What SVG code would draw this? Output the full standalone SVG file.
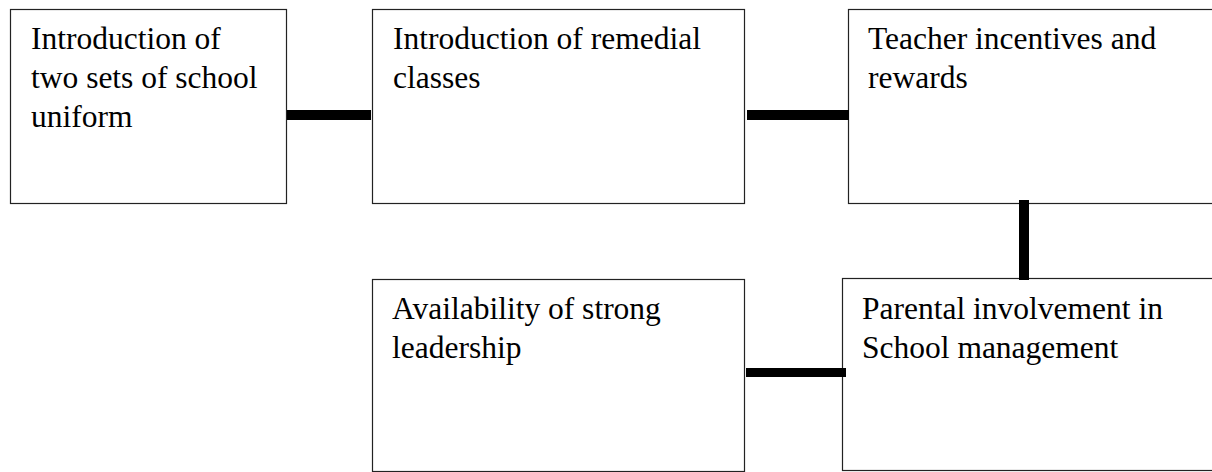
<svg xmlns="http://www.w3.org/2000/svg" width="1212" height="472" viewBox="0 0 1212 472">
<style>
.box{fill:#fff;stroke:#222;stroke-width:1.2}
.t{font-family:"Liberation Serif","Times New Roman",serif;font-size:31.5px;fill:#000}
.c{fill:#000}
</style>
<rect x="0" y="0" width="1212" height="472" fill="#fff"/>
<g id="n1"><rect class="box" x="10.5" y="9.5" width="276" height="194"/>
<text class="t" x="31" y="49">Introduction of</text><text class="t" x="31" y="88">two sets of school</text><text class="t" x="31" y="127">uniform</text></g>
<g id="n2"><rect class="box" x="372.5" y="9.5" width="372" height="194"/>
<text class="t" x="393" y="49">Introduction of remedial</text><text class="t" x="393" y="88">classes</text></g>
<g id="n3"><rect class="box" x="848.5" y="9.5" width="380" height="194"/>
<text class="t" x="868" y="49">Teacher incentives and</text><text class="t" x="868" y="88">rewards</text></g>
<g id="n4"><rect class="box" x="372.5" y="279.5" width="372" height="192"/>
<text class="t" x="392" y="319">Availability of strong</text><text class="t" x="392" y="358">leadership</text></g>
<g id="n5"><rect class="box" x="842.5" y="278.5" width="380" height="192"/>
<text class="t" x="862" y="319">Parental involvement in</text><text class="t" x="862" y="358">School management</text></g>
<g id="connectors">
<rect class="c" x="287" y="110" width="84" height="10"/>
<rect class="c" x="747" y="110" width="102" height="10"/>
<rect class="c" x="1019" y="200" width="10" height="80"/>
<rect class="c" x="746" y="368" width="100" height="9"/>
</g>
</svg>
